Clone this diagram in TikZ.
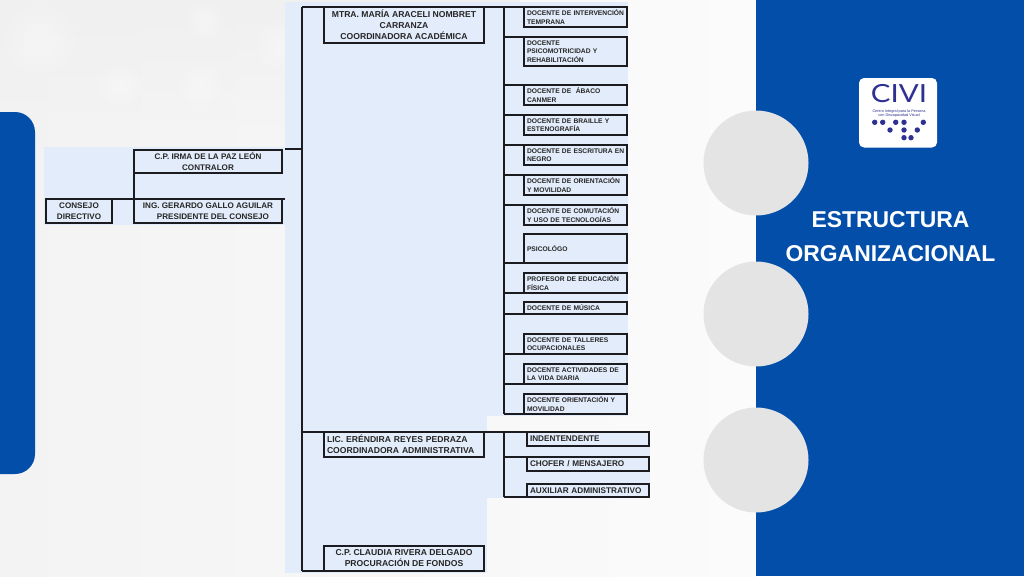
\documentclass[tikz,border=0pt]{standalone}
\usepackage{fontspec}
\usetikzlibrary{fadings}
\setmainfont{Liberation Sans}
\newfontfamily\logofont{Lato}
\definecolor{bluepanel}{HTML}{034EA9}
\definecolor{paleblue}{HTML}{E3ECFA}
\definecolor{discgray}{HTML}{E4E4E4}
\definecolor{inktext}{HTML}{262626}
\definecolor{indigo}{HTML}{2E3192}
\definecolor{bgleft}{HTML}{F3F3F3}
\definecolor{bgright}{HTML}{FBFBFB}
\definecolor{linkdark}{HTML}{1C1C20}
\tikzfading[name=softspot,inner color=transparent!65,outer color=transparent!100]
\tikzfading[name=topdark,top color=transparent!0,bottom color=transparent!100]
\tikzset{
  orgbox/.style={draw=linkdark,line width=1.7pt,inner sep=0pt,outer sep=0pt,text=inktext},
  link/.style={draw=linkdark,line width=1.7pt},
  smallbox/.style={orgbox,font=\bfseries\fontsize{6.7}{8.6}\selectfont,align=left},
  midbox/.style={orgbox,font=\bfseries\fontsize{8.1}{10.6}\selectfont,align=center},
  disc/.style={fill=discgray,draw=none},
  brailledot/.style={fill=indigo,draw=none},
  glow/.style={fill=white,draw=none,path fading=softspot}
}
\newcommand{\keepline}[1]{\mbox{#1}}
% name, x1,y1,x2,y2, style, text
\newcommand{\orgnode}[7]{%
  \pgfmathsetmacro{\bw}{#4-#2}\pgfmathsetmacro{\bh}{#5-#3}%
  \node[#6,minimum width=\bw pt,minimum height=\bh pt] (#1) at ({(#2+#4)/2},{(#3+#5)/2}) {#7};}
\newcommand{\leftnode}[7]{%
  \pgfmathsetmacro{\bw}{#4-#2}\pgfmathsetmacro{\bh}{#5-#3}%
  \node[#6,minimum width=\bw pt,minimum height=\bh pt,text width={\bw pt-6pt},inner xsep=3pt] (#1) at ({(#2+#4)/2},{(#3+#5)/2}) {#7};}
\begin{document}
\begin{tikzpicture}[x=1pt,y=-1pt]
\useasboundingbox (0,0) rectangle (1024,576);
% background
\shade[left color=bgleft,right color=bgright] (0,0) rectangle (756,576);
\fill[black!6,path fading=topdark] (0,0) rectangle (520,150);
\fill[glow] (40,40) circle (42);
\fill[glow] (120,85) circle (26);
\fill[glow] (200,85) circle (26);
\fill[glow] (280,45) circle (30);
\fill[glow] (205,20) circle (22);
% pale panels
\fill[paleblue] (44,147) rectangle (285,225);
\fill[paleblue] (285,2) rectangle (487,573);
\fill[paleblue] (487,2) rectangle (628,416);
\fill[paleblue] (487,431) rectangle (650,498);
% blue shapes
\fill[bluepanel] (756,0) rectangle (1024,576);
\fill[bluepanel] (0,112) -- (15,112) arc[start angle=-90,end angle=0,radius=20] -- (35,454) arc[start angle=0,end angle=90,radius=20] -- (0,474) -- cycle;
\fill[disc] (756,163) circle (52.5);
\fill[disc] (756,314) circle (52.5);
\fill[disc] (756,460) circle (52.5);
% title
\node[text=white,font=\bfseries\fontsize{22.9}{34}\selectfont,align=center] (title) at (890.5,236.5) {ESTRUCTURA\\ORGANIZACIONAL};
% logo
\fill[white,rounded corners=5pt] (859,78) rectangle (937,147.5);
\node[text=indigo,font=\logofont\fontsize{25}{25}\selectfont,inner sep=0pt] (civi) at (899,94) {\scalebox{1.18}[1]{CIVI}};
\node[text=indigo,font=\fontsize{3.8}{4.5}\selectfont,align=center,inner sep=0pt] (civisub) at (899,113.5) {Centro Integral para la Persona\\con Discapacidad Visual};
\foreach \dx/\dy in {874.7/122.3,882.7/122.3,895.7/122.3,904/122.3,923.3/122.3,890/130,904/130,917.3/130,904/137.7,911/137.7}
  \fill[brailledot] (\dx,\dy) circle (2.7);
% left boxes
\orgnode{contralor}{134}{150}{282}{173}{midbox}{C.P. IRMA DE LA PAZ LEÓN\\CONTRALOR}
\orgnode{consejo}{46}{199}{112}{223}{midbox}{CONSEJO\\DIRECTIVO}
\orgnode{presidente}{134}{199}{282}{223}{midbox}{ING. GERARDO GALLO AGUILAR\\\hspace*{10pt}PRESIDENTE DEL CONSEJO}
\coordinate (railend) at (285,199);
\draw[link] (consejo.north east) -- (presidente.north west);
\draw[link] (presidente.north east) -- (railend);
\draw[link] (contralor.south west) -- (presidente.north west);
% main trunk
\coordinate (trunktop) at (302,7);
\coordinate (trunkbot) at (302,571);
\coordinate (trunkin) at (285,149);
\draw[link] (trunktop) -- (trunkbot);
\draw[link] (trunkin) -- (trunkin -| trunktop);
% coordinators
\orgnode{mtra}{324}{7}{484}{43}{midbox,font=\bfseries\fontsize{8.6}{10.8}\selectfont}{MTRA. MARÍA ARACELI NOMBRET\\CARRANZA\\COORDINADORA ACADÉMICA}
\leftnode{lic}{324}{432}{484}{457}{midbox,align=left,font=\bfseries\fontsize{8.6}{11}\selectfont}{\keepline{LIC. ERÉNDIRA REYES PEDRAZA}\\\keepline{COORDINADORA ADMINISTRATIVA}}
\orgnode{claudia}{324}{546}{484}{571}{midbox,font=\bfseries\fontsize{8.6}{11}\selectfont}{C.P. CLAUDIA RIVERA DELGADO\\PROCURACIÓN DE FONDOS}
\draw[link] (trunktop) -- (mtra.north west);
\draw[link] (trunktop |- lic.north west) -- (lic.north west);
\draw[link] (trunkbot) -- (claudia.south west);
% teachers
\leftnode{d1}{524}{7}{627}{27}{smallbox}{\keepline{DOCENTE DE INTERVENCIÓN}\\TEMPRANA}
\leftnode{d2}{524}{37}{627}{66}{smallbox}{DOCENTE\\PSICOMOTRICIDAD Y\\REHABILITACIÓN}
\leftnode{d3}{524}{85}{627}{105}{smallbox}{DOCENTE DE\ \ ÁBACO\\CANMER}
\leftnode{d4}{524}{115}{627}{135}{smallbox}{DOCENTE DE BRAILLE Y\\ESTENOGRAFÍA}
\leftnode{d5}{524}{145}{627}{165}{smallbox}{\keepline{DOCENTE DE ESCRITURA EN}\\NEGRO}
\leftnode{d6}{524}{175}{627}{195}{smallbox}{\keepline{DOCENTE DE ORIENTACIÓN}\\Y MOVILIDAD}
\leftnode{d7}{524}{205}{627}{225}{smallbox}{\keepline{DOCENTE DE COMUTACIÓN}\\\keepline{Y USO DE TECNOLOGÍAS}}
\leftnode{d8}{524}{234}{627}{263}{smallbox}{PSICOLÓGO}
\leftnode{d9}{524}{273}{627}{293}{smallbox}{\keepline{PROFESOR DE EDUCACIÓN}\\FÍSICA}
\leftnode{d10}{524}{302}{627}{314}{smallbox}{DOCENTE DE MÚSICA}
\leftnode{d11}{524}{334}{627}{354}{smallbox}{DOCENTE DE TALLERES\\OCUPACIONALES}
\leftnode{d12}{524}{364}{627}{384}{smallbox}{\keepline{DOCENTE ACTIVIDADES DE}\\LA VIDA DIARIA}
\leftnode{d13}{524}{394}{627}{414}{smallbox}{\keepline{DOCENTE ORIENTACIÓN Y}\\MOVILIDAD}
\coordinate (brancha) at (504,7);
\coordinate (branchb) at (504,414);
\draw[link] (brancha) -- (branchb);
\draw[link] (mtra.north east) -- (d1.north west);
\foreach \n in {d2,d3,d4,d5,d6,d7}
  \draw[link] (brancha |- \n.north west) -- (\n.north west);
\foreach \n in {d8,d9,d10,d11,d12,d13}
  \draw[link] (brancha |- \n.south west) -- (\n.south west);
% admin staff
\leftnode{a1}{527}{432}{649}{446}{smallbox,font=\bfseries\fontsize{8.2}{9}\selectfont}{INDENTENDENTE}
\leftnode{a2}{527}{457}{649}{471}{smallbox,font=\bfseries\fontsize{8.2}{9}\selectfont}{CHOFER / MENSAJERO}
\leftnode{a3}{527}{484}{649}{497}{smallbox,font=\bfseries\fontsize{8.2}{9}\selectfont}{\keepline{AUXILIAR ADMINISTRATIVO}}
\coordinate (branchc) at (504,432);
\coordinate (branchd) at (504,497);
\draw[link] (branchc) -- (branchd);
\draw[link] (lic.north east) -- (a1.north west);
\draw[link] (branchc |- a2.north west) -- (a2.north west);
\draw[link] (branchd) -- (a3.south west);
\end{tikzpicture}
\end{document}
